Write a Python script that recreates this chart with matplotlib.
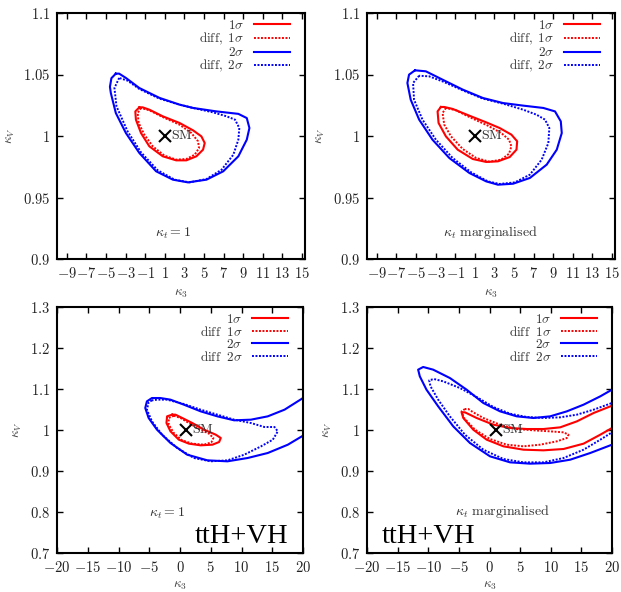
import matplotlib
matplotlib.use("Agg")
import matplotlib.pyplot as plt

plt.rcParams['mathtext.fontset'] = 'cm'
plt.rcParams['font.family'] = ['DejaVu Serif']

# ---------------- data ----------------
top_xticks = [-9, -7, -5, -3, -1, 1, 3, 5, 7, 9, 11, 13, 15]
top_yticks = [0.9, 0.95, 1.0, 1.05, 1.1]
bot_xticks = [-20, -15, -10, -5, 0, 5, 10, 15, 20]
bot_yticks = [0.7, 0.8, 0.9, 1.0, 1.1, 1.2, 1.3]

labels_top = ['$1\\sigma$', '$\\mathrm{diff,}\\ 1\\sigma$', '$2\\sigma$', '$\\mathrm{diff,}\\ 2\\sigma$']
labels_bot = ['$1\\sigma$', '$\\mathrm{diff}\\ \\ 1\\sigma$', '$2\\sigma$', '$\\mathrm{diff}\\ \\ 2\\sigma$']

sm_point = (1.0, 1.0)

# top-left (kappa_t = 1)
tl_s1_x = [-1.6, -2.01, -1.95, -1.43, -0.58, 0.79, 2.16, 3.19, 4.22, 4.9, 5.07, 4.73, 3.88, 2.5, 0.79, -0.58, -1.26]
tl_s1_y = [1.0233, 1.020, 1.0133, 1.0024, 0.9916, 0.9835, 0.9802, 0.9802, 0.9835, 0.9889, 0.9943, 0.9997, 1.0046, 1.0106, 1.016, 1.0214, 1.0233]
tl_d1_x = [-1.43, -1.77, -1.67, -1.09, -0.23, 0.97, 2.16, 3.19, 4.05, 4.49, 4.39, 3.71, 2.5, 0.79, -0.58]
tl_d1_y = [1.0228, 1.0187, 1.0106, 1.0011, 0.9916, 0.9840, 0.9808, 0.9813, 0.9848, 0.9902, 0.9957, 1.0024, 1.0092, 1.0154, 1.0209]
tl_s2_x = [-4.0, -4.45, -4.6, -4.51, -4.0, -2.97, -1.6, 0.11, 1.82, 3.36, 5.25, 6.96, 8.5, 9.36, 9.63, 9.36, 8.5, 6.27, 3.88, 2.5, 0.45, -1.6, -2.97, -3.66]
tl_s2_y = [1.0507, 1.047, 1.0400, 1.035, 1.0187, 1.0024, 0.9862, 0.9713, 0.9645, 0.9623, 0.9645, 0.9713, 0.9835, 0.9970, 1.0065, 1.0146, 1.018, 1.020, 1.0228, 1.0255, 1.031, 1.039, 1.0472, 1.0507]
tl_d2_x = [-3.66, -4.14, -3.93, -2.8, -1.43, 0.28, 1.99, 3.53, 5.25, 6.79, 7.99, 8.5, 8.6, 8.16, 7.3, 5.93, 3.88, 2.5, 0.45, -1.6, -2.8]
tl_d2_y = [1.0472, 1.039, 1.0241, 1.0038, 0.9867, 0.9721, 0.9645, 0.9623, 0.965, 0.9726, 0.9848, 0.997, 1.0065, 1.0133, 1.016, 1.0192, 1.0228, 1.0255, 1.0304, 1.0382, 1.045]

# top-right (kappa_t marginalised)
tr_s1_x = [-2.46, -2.8, -2.7, -1.95, -0.75, 0.79, 2.16, 3.36, 4.56, 5.25, 5.32, 4.73, 3.53, 2.16, 0.45, -1.26, -2.12]
tr_s1_y = [1.0236, 1.020, 1.0106, 0.9997, 0.9889, 0.9813, 0.9789, 0.9794, 0.9829, 0.9889, 0.9957, 1.0011, 1.0065, 1.0111, 1.0165, 1.022, 1.0236]
tr_d1_x = [-1.95, -2.29, -2.12, -1.43, -0.23, 1.14, 2.5, 3.7, 4.49, 4.73, 4.49, 3.7, 2.33, 0.45, -0.92]
tr_d1_y = [1.0228, 1.0187, 1.0092, 0.9997, 0.9894, 0.9821, 0.9791, 0.9808, 0.9856, 0.9916, 0.997, 1.0024, 1.0084, 1.0154, 1.0209]
tr_s2_x = [-5.1, -5.71, -5.88, -5.54, -4.68, -3.32, -1.6, 0.45, 2.16, 3.36, 4.9, 6.62, 8.33, 9.36, 9.87, 9.77, 9.18, 7.99, 5.93, 3.88, 1.82, -0.23, -2.29, -4.0]
tr_s2_y = [1.0534, 1.0499, 1.0431, 1.0295, 1.0133, 0.997, 0.9821, 0.9699, 0.9631, 0.9604, 0.9612, 0.9659, 0.9767, 0.9889, 1.0024, 1.0119, 1.020, 1.0228, 1.0247, 1.0268, 1.0309, 1.0377, 1.0458, 1.0526]
tr_d2_x = [-4.68, -5.3, -5.2, -4.34, -2.97, -1.26, 0.62, 2.33, 3.53, 5.08, 6.62, 7.82, 8.5, 8.6, 8.16, 7.3, 5.93, 3.88, 1.82, -0.23, -2.29, -3.66]
tr_d2_y = [1.049, 1.0431, 1.0295, 1.0133, 0.997, 0.9821, 0.9705, 0.9631, 0.961, 0.9623, 0.9686, 0.9808, 0.9943, 1.0065, 1.0133, 1.0173, 1.0214, 1.0263, 1.0304, 1.0371, 1.0444, 1.0485]

# bottom-left (ttH+VH, kappa_t = 1)
bl_s1_x = [-1.28, -2.1, -2.2, -1.55, -0.19, 1.45, 3.36, 5.27, 6.36, 6.63, 5.81, 3.9, 1.99, 0.36, -0.74]
bl_s1_y = [1.0374, 1.0333, 1.0171, 0.9968, 0.9764, 0.9667, 0.9626, 0.9642, 0.9707, 0.9805, 0.9886, 1.0008, 1.0171, 1.0293, 1.0374]
bl_d1_x = [-1.01, -1.83, -1.83, -1.01, 0.36, 1.99, 3.9, 5.1, 5.43, 4.72, 3.08, 1.45, 0.08]
bl_d1_y = [1.035, 1.0293, 1.013, 0.9927, 0.9748, 0.9667, 0.9642, 0.9699, 0.9805, 0.991, 1.0024, 1.0171, 1.0293]
bl_s2_x = [21.5, 20.0, 17.0, 14.27, 11.54, 8.81, 6.08, 3.36, 0.63, -1.55, -3.19, -4.56, -5.38, -5.65, -5.1, -3.74, -1.55, 1.17, 4.45, 7.72, 11.0, 14.27, 17.54, 20.0, 21.5]
bl_s2_y = [1.088, 1.078, 1.0496, 1.0333, 1.0252, 1.0236, 1.0333, 1.0455, 1.0618, 1.074, 1.078, 1.078, 1.0699, 1.0537, 1.0293, 1.0008, 0.9683, 0.9398, 0.926, 0.9236, 0.9317, 0.9439, 0.9642, 0.9862, 1.000]
bl_d2_x = [-4.56, -5.1, -5.38, -4.56, -2.92, -0.46, 2.27, 5.0, 7.72, 10.45, 13.18, 15.09, 15.9, 15.36, 13.72, 11.54, 8.81, 6.08, 3.36, 0.63, -2.1, -3.74]
bl_d2_y = [1.0724, 1.0675, 1.0496, 1.0211, 0.9886, 0.9561, 0.9317, 0.9236, 0.926, 0.9398, 0.9602, 0.9764, 0.9967, 1.0073, 1.0073, 1.017, 1.0252, 1.0374, 1.0496, 1.0634, 1.074, 1.074]

# bottom-right (ttH+VH, kappa_t marginalised)
br_s1_x = [21.5, 20.0, 17.0, 14.27, 11.54, 8.81, 6.08, 3.36, 0.63, -2.1, -4.01, -4.56, -4.28, -2.65, -0.46, 2.27, 5.54, 8.81, 12.09, 15.36, 18.09, 20.0, 21.5]
br_s1_y = [1.068, 1.0593, 1.0415, 1.0211, 1.0065, 1.0024, 1.0024, 1.0049, 1.013, 1.0293, 1.0431, 1.0431, 1.0293, 1.0008, 0.9764, 0.9602, 0.952, 0.9504, 0.9537, 0.9667, 0.9886, 1.0049, 1.020]
br_d1_x = [-4.01, -4.56, -4.17, -2.37, 0.08, 2.81, 5.54, 8.27, 11.0, 12.63, 12.9, 12.09, 9.9, 7.18, 4.45, 1.72, -1.01, -2.65, -3.46]
br_d1_y = [1.0512, 1.0455, 1.0293, 1.0008, 0.978, 0.9642, 0.9602, 0.9642, 0.9724, 0.9805, 0.9886, 0.9943, 0.9967, 0.9992, 1.0024, 1.013, 1.0293, 1.0431, 1.0512]
br_s2_x = [21.5, 20.0, 18.09, 15.36, 12.63, 9.9, 7.18, 4.45, 1.72, -1.01, -3.74, -6.47, -9.2, -10.83, -11.65, -11.38, -10.29, -8.38, -5.92, -3.19, 0.08, 3.36, 6.63, 9.9, 13.18, 16.45, 20.0, 21.5]
br_s2_y = [1.107, 1.0984, 1.0821, 1.0618, 1.0455, 1.0333, 1.0293, 1.0333, 1.0455, 1.0659, 1.0984, 1.1268, 1.1472, 1.1537, 1.1472, 1.1309, 1.0984, 1.0577, 1.0089, 0.9683, 0.9358, 0.9211, 0.9179, 0.9195, 0.9276, 0.9439, 0.9642, 0.975]
br_d2_x = [21.5, 20.0, 17.0, 14.27, 11.54, 8.81, 6.08, 3.36, 0.63, -2.1, -4.83, -7.56, -9.09, -9.85, -9.63, -8.38, -6.47, -4.01, -1.01, 2.27, 5.54, 8.81, 12.09, 15.36, 18.09, 20.0, 21.5]
br_d2_y = [1.074, 1.0659, 1.0496, 1.0374, 1.0309, 1.0293, 1.0317, 1.0398, 1.0561, 1.0805, 1.1024, 1.1187, 1.1244, 1.1211, 1.1065, 1.074, 1.0333, 0.9886, 0.952, 0.9293, 0.9211, 0.9211, 0.9317, 0.952, 0.9764, 0.9943, 1.008]

RED = '#ff0000'
BLUE = '#0000ff'
DOT = (0, (1.0, 0.8))


def closed(xs, ys):
    return list(xs) + [xs[0]], list(ys) + [ys[0]]


def fmt(v):
    return '$%s$' % ('%g' % v)


fig = plt.figure(figsize=(6.21, 5.92), dpi=100)
W, H = 621.0, 592.0


def make_ax(l, r, t, b):
    return fig.add_axes([l / W, 1 - b / H, (r - l) / W, (b - t) / H])


panels = [
    dict(ax=make_ax(57, 305, 13, 259), curves=[(tl_s1_x, tl_s1_y, True), (tl_d1_x, tl_d1_y, True),
                                             (tl_s2_x, tl_s2_y, True), (tl_d2_x, tl_d2_y, True)],
         xlim=(-10, 15.3), ylim=(0.9, 1.1), xt=top_xticks, yt=top_yticks, labels=labels_top,
         note='$\\kappa_t = 1$', note_xy=(0.468, 0.106), tag=None, xlp=4.5),
    dict(ax=make_ax(367, 615, 13, 259), curves=[(tr_s1_x, tr_s1_y, True), (tr_d1_x, tr_d1_y, True),
                                              (tr_s2_x, tr_s2_y, True), (tr_d2_x, tr_d2_y, True)],
         xlim=(-10, 15.3), ylim=(0.9, 1.1), xt=top_xticks, yt=top_yticks, labels=labels_top,
         note='$\\kappa_t\\ \\mathrm{marginalised}$', note_xy=(0.496, 0.106), tag=None, xlp=4.5),
    dict(ax=make_ax(57, 303, 307, 553), curves=[(bl_s1_x, bl_s1_y, True), (bl_d1_x, bl_d1_y, True),
                                              (bl_s2_x, bl_s2_y, False), (bl_d2_x, bl_d2_y, True)],
         xlim=(-20, 20), ylim=(0.7, 1.3), xt=bot_xticks, yt=bot_yticks, labels=labels_bot,
         note='$\\kappa_t = 1$', note_xy=(0.447, 0.163), tag=('right', 0.94), xlp=3.0),
    dict(ax=make_ax(367, 612, 307, 553), curves=[(br_s1_x, br_s1_y, False), (br_d1_x, br_d1_y, True),
                                               (br_s2_x, br_s2_y, False), (br_d2_x, br_d2_y, False)],
         xlim=(-20, 20), ylim=(0.7, 1.3), xt=bot_xticks, yt=bot_yticks, labels=labels_bot,
         note='$\\kappa_t\\ \\mathrm{marginalised}$', note_xy=(0.553, 0.167), tag=('left', 0.06), xlp=3.0),
]

styles = [(RED, '-', 1.5), (RED, DOT, 1.4), (BLUE, '-', 1.5), (BLUE, DOT, 1.4)]

for p in panels:
    ax = p['ax']
    handles = []
    for (xs, ys, is_closed), (c, ls, lw) in zip(p['curves'], styles):
        if is_closed:
            xs, ys = closed(xs, ys)
        h, = ax.plot(xs, ys, color=c, linestyle=ls, linewidth=lw, solid_joinstyle='round')
        handles.append(h)
    ax.plot([sm_point[0]], [sm_point[1]], marker='x', color='black', markersize=8, markeredgewidth=1.5, linestyle='none')
    ax.text(sm_point[0] + 0.025 * (p['xlim'][1] - p['xlim'][0]), sm_point[1] + 0.003 * (p['ylim'][1] - p['ylim'][0]),
            '$\\mathrm{SM}$', fontsize=10, color='#333333', va='center', ha='left')
    ax.set_xlim(*p['xlim'])
    ax.set_ylim(*p['ylim'])
    ax.set_xticks(p['xt'])
    ax.set_xticklabels([fmt(v) for v in p['xt']])
    ax.set_yticks(p['yt'])
    ax.set_yticklabels([fmt(v) for v in p['yt']])
    ax.tick_params(direction='in', top=True, right=True, length=4.5, width=1.0, labelsize=10.5,
                   labelcolor='#222222', pad=5)
    for s in ax.spines.values():
        s.set_linewidth(1.5)
    ax.set_xlabel('$\\kappa_3$', fontsize=9.5, color='#444444', labelpad=p['xlp'])
    ax.set_ylabel('$\\kappa_V$', fontsize=9.5, color='#444444', labelpad=4)
    axw = ax.get_position().width * W
    axh = ax.get_position().height * H
    leg = ax.legend(handles, p['labels'], loc='upper right', frameon=False, markerfirst=False,
                    fontsize=9.5, handlelength=2.75, handletextpad=0.7, labelspacing=-0.08,
                    borderaxespad=0.0, borderpad=0.0,
                    bbox_to_anchor=(1 - 15.0 / axw, 1 - 6.0 / axh))
    for t in leg.get_texts():
        t.set_color('#333333')
    ax.text(p['note_xy'][0], p['note_xy'][1], p['note'], transform=ax.transAxes, fontsize=10,
            color='#333333', ha='center', va='center')
    if p['tag'] is not None:
        ha, xpos = p['tag']
        ax.text(xpos, 0.04, 'ttH+VH', transform=ax.transAxes, fontsize=20.5,
                family='Liberation Serif', ha=ha, va='baseline', color='black')

fig.savefig('out.png', dpi=100)
